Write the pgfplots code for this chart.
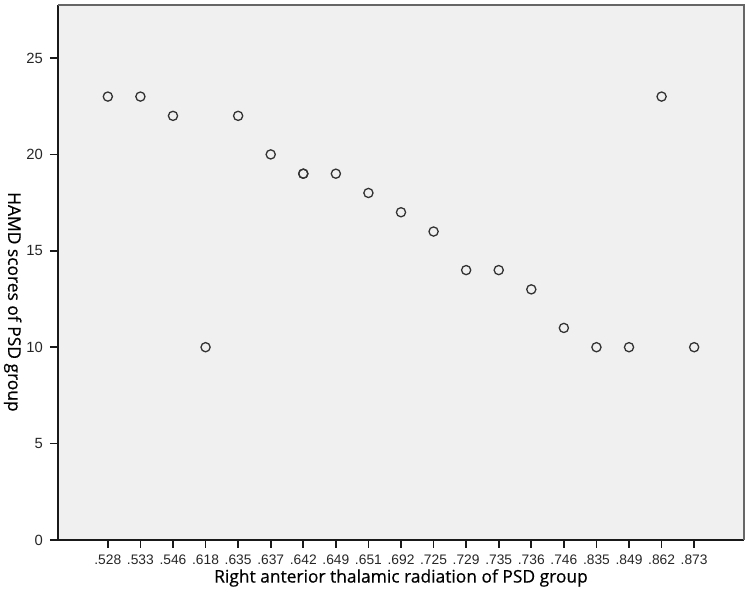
\documentclass[border=0pt]{standalone}
\usepackage{fontspec}
\usepackage{pgfplots}
\pgfplotsset{compat=1.18}
\setmainfont{Liberation Sans}
\newfontfamily\labelfont[FakeBold=0.5]{Open Sans}
\definecolor{panel}{HTML}{F0F0F0}
\definecolor{markc}{HTML}{333333}

\begin{document}
\begin{tikzpicture}
\begin{axis}[
    scale only axis,
    width=343pt, height=267.5pt,
    xmin=-1.53, xmax=19.53,
    ymin=0, ymax=27.75,
    axis lines*=left,
    axis line style={-, black!90, line width=0.8pt},
    axis background/.style={fill=panel},
    xtick={0,...,18},
    xticklabels={.528,.533,.546,.618,.635,.637,.642,.649,.651,.692,.725,.729,.735,.736,.746,.835,.849,.862,.873},
    ytick={0,5,10,15,20,25},
    tick align=outside,
    major tick length=4pt,
    tick style={black!90, line width=0.8pt},
    /pgf/number format/assume math mode=true,
    ticklabel style={font=\fontsize{6.9}{8}\selectfont, text=black!85},
    yticklabel style={font=\fontsize{7.4}{8}\selectfont},
    xlabel={Right anterior thalamic radiation of PSD group},
    ylabel={HAMD scores of PSD group},
    label style={font=\labelfont\fontsize{8.7}{10}\selectfont, text=black},
    xlabel style={at={(axis description cs:0.5,-0.071)}, anchor=center},
    ylabel style={at={(axis description cs:-0.066,0.445)}, anchor=center, rotate=180},
    clip=false,
]
\draw[black!60, line width=0.7pt] (rel axis cs:0,1) -- (rel axis cs:1,1) -- (rel axis cs:1,0);
\addplot[only marks, mark=o, mark size=2.3pt, mark options={draw=markc, line width=0.65pt}] coordinates {
    (0,23) (1,23) (2,22) (3,10) (4,22) (5,20) (6,19) (6,19) (7,19) (8,18)
    (9,17) (10,16) (11,14) (12,14) (13,13) (14,11) (15,10) (16,10) (17,23) (18,10)
};
\end{axis}
\pgfresetboundingbox
\path (current axis.south west) ++(-29pt,-30pt) coordinate (bl);
\path (current axis.north east) ++(3pt,2.5pt) coordinate (tr);
\path (bl) rectangle (tr);
\end{tikzpicture}
\end{document}
